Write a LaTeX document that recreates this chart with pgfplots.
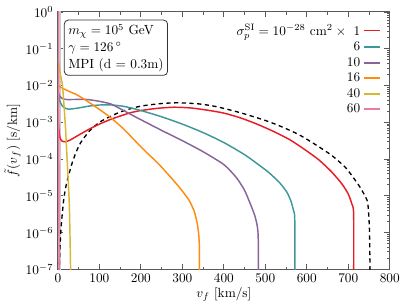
\documentclass[border=0pt]{standalone}
\usepackage{pgfplots}
\pgfplotsset{compat=1.18}
\usepackage{pgfplotstable}
\definecolor{cred}{RGB}{232,28,36}
\definecolor{cteal}{RGB}{62,152,152}
\definecolor{cpurple}{RGB}{135,100,155}
\definecolor{corange}{RGB}{255,140,15}
\definecolor{cyellow}{RGB}{218,182,50}
\definecolor{cpink}{RGB}{240,120,160}
\definecolor{cband}{RGB}{205,205,205}

\pgfplotstableread{
v lf
0 -2.75
2 -3.15
5 -3.42
10 -3.51
18 -3.53
30 -3.48
45 -3.38
62 -3.27
80 -3.16
100 -3.05
125 -2.93
150 -2.83
175 -2.74
200 -2.68
240 -2.62
280 -2.59
320 -2.61
360 -2.67
400 -2.75
440 -2.88
480 -3.05
520 -3.25
560 -3.48
600 -3.78
630 -4.03
660 -4.35
685 -4.68
700 -4.95
708 -5.2
713 -5.5
713 -7.5
}\tRed

\pgfplotstableread{
v lf
0 -2.2
4 -2.4
10 -2.55
20 -2.63
30 -2.64
50 -2.61
75 -2.56
100 -2.53
130 -2.53
160 -2.57
200 -2.68
250 -2.85
300 -3.05
350 -3.28
400 -3.55
450 -3.88
487 -4.18
510 -4.38
535 -4.65
552 -4.9
562 -5.15
568 -5.4
571 -5.65
571 -7.5
}\tTeal

\pgfplotstableread{
v lf
0 -2.15
4 -2.28
10 -2.35
20 -2.38
40 -2.38
70 -2.38
100 -2.43
127 -2.5
150 -2.63
183 -2.83
200 -2.93
250 -3.22
300 -3.5
350 -3.8
400 -4.15
430 -4.5
450 -4.85
465 -5.25
475 -5.55
481 -5.85
483 -6.2
483 -7.5
}\tPurple

\pgfplotstableread{
v lf
0 -1.97
4 -2.03
10 -2.07
25 -2.15
45 -2.25
70 -2.42
100 -2.65
130 -2.9
160 -3.2
190 -3.55
210 -3.78
240 -4.1
270 -4.47
295 -4.8
315 -5.1
328 -5.4
335 -5.7
339 -6.0
341 -6.4
341 -7.5
}\tOrange

\pgfplotstableread{
v lf
0 -1.25
2 -1.38
6 -1.7
11 -2.0
15 -2.6
18.5 -3.2
23 -4.2
27 -5.1
29 -6.0
30.5 -7.0
31 -7.5
}\tYellow

\pgfplotstableread{
v lf
0.8 0.2
1.5 -2
2 -4
2.5 -6
3 -7.5
}\tPink

\pgfplotstableread{
v lf
2 -7.5
3 -7.0
5 -6.4
8 -5.8
14 -5.1
20 -4.7
28 -4.35
35 -4.08
45 -3.78
55 -3.55
75 -3.25
100 -3.0
130 -2.82
160 -2.68
200 -2.56
250 -2.49
290 -2.47
340 -2.5
380 -2.57
440 -2.74
500 -2.95
535 -3.1
580 -3.33
620 -3.6
660 -3.9
695 -4.25
727 -4.74
740 -5.0
747 -5.2
751 -5.9
753 -7.5
}\tSHM

\begin{document}
\begin{tikzpicture}
\begin{axis}[
  name=ax,
  width=250pt, height=194pt, scale only axis,
  ymode=log,
  xmin=0, xmax=800, ymin=1e-7, ymax=1,
  xtick={0,100,...,800},
  minor x tick num=1,
  ytick={1e-7,1e-6,1e-5,1e-4,1e-3,1e-2,1e-1,1},
  tick align=inside,
  xtick pos=both, ytick pos=both,
  axis line style={black!65, line width=0.7pt},
  every tick/.style={black!65, line width=0.6pt},
  major tick length=4pt, minor tick length=2pt,
  xlabel={$v_f$ [km/s]},
  ylabel={$\tilde{f}(v_f)$ [s/km]},
  xlabel style={yshift=3pt},
  ylabel style={yshift=-3pt},
  clip=true,
  legend cell align=right,
  legend plot pos=right,
  legend style={at={(0.985,0.975)}, anchor=north east, draw=none, fill=none,
    row sep=-0.5pt, font=\normalsize},
  legend image code/.code={\draw[#1, line width=1.4pt] (0cm,0cm) -- (0.42cm,0cm);},
]
\addplot[fill=cband, draw=none, forget plot] coordinates {(0,1e-8) (8,1e-8) (8,10) (0,10)} --cycle;
\addplot[black, line width=1pt, dash pattern=on 3.2pt off 2.6pt, smooth, tension=0.4, forget plot] table[x=v, y expr=10^(\thisrow{lf})] {\tSHM};
\addplot[cred, line width=1.1pt, smooth, tension=0.4] table[x=v, y expr=10^(\thisrow{lf})] {\tRed};
\addlegendentry{$\sigma_p^{\rm SI}=10^{-28}\ {\rm cm}^2\times\ 1$}
\addplot[cteal, line width=1.1pt, smooth, tension=0.4] table[x=v, y expr=10^(\thisrow{lf})] {\tTeal};
\addlegendentry{6}
\addplot[cpurple, line width=1.1pt, smooth, tension=0.4] table[x=v, y expr=10^(\thisrow{lf})] {\tPurple};
\addlegendentry{10}
\addplot[corange, line width=1.1pt, smooth, tension=0.4] table[x=v, y expr=10^(\thisrow{lf})] {\tOrange};
\addlegendentry{16}
\addplot[cyellow, line width=1.1pt, smooth, tension=0.4] table[x=v, y expr=10^(\thisrow{lf})] {\tYellow};
\addlegendentry{40}
\addplot[cpink, line width=1.1pt] table[x=v, y expr=10^(\thisrow{lf})] {\tPink};
\addlegendentry{60}
\node[draw=black!80, rounded corners=3pt, align=left, anchor=north west, fill=white, line width=0.6pt, inner sep=3pt]
  at (rel axis cs:0.018,0.97) {$m_\chi=10^5$ GeV\\[0.5pt]$\gamma=126\,^\circ$\\[0.5pt]MPI (d = 0.3m)};
\end{axis}
\path (ax.north east) ++(13pt,9pt);
\end{tikzpicture}
\end{document}
